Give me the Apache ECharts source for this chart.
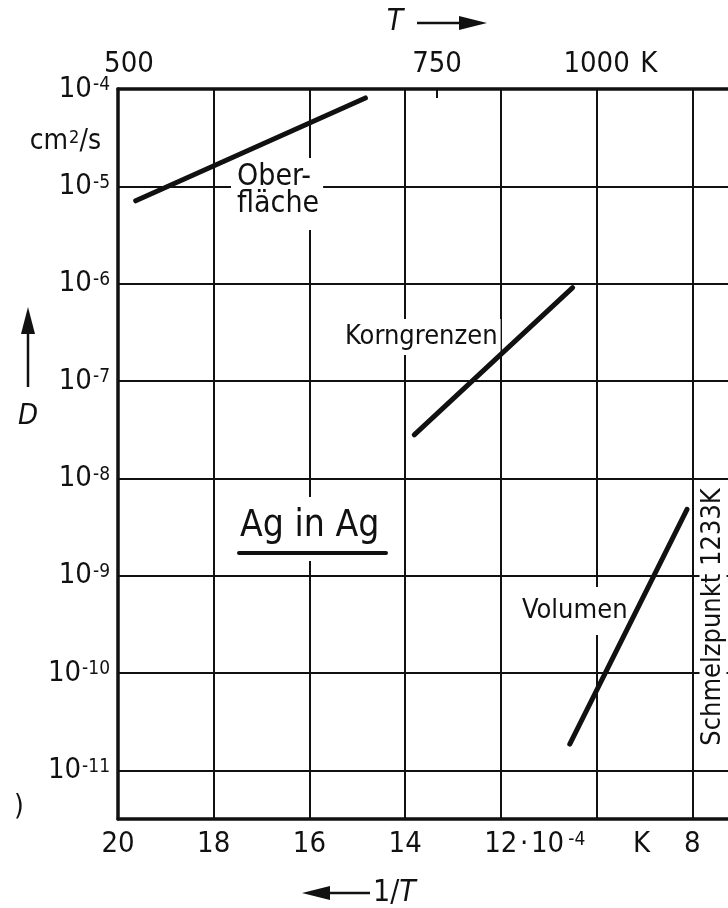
<!DOCTYPE html>
<html>
<head>
<meta charset="utf-8">
<script src="https://cdn.jsdelivr.net/npm/echarts@6/dist/echarts.min.js"></script>
<style>
  html, body { margin: 0; padding: 0; background: #fff; }
  #chart { width: 728px; height: 908px; }
</style>
</head>
<body>
<div id="chart"></div>
<script>
// Diffusion of silver in silver: D over reciprocal temperature (10^-4 1/K)
const xTicks = [20, 18, 16, 14, 12, 10, 8];
const topTemps = [500, 750, 1000];          // K, marked on the upper axis
const meltingPointK = 1233;

// surface diffusion
const surfaceX = [19.63, 14.83];
const surfaceD = [7.1e-6, 8.1e-5];
// grain boundary diffusion
const grainX = [13.81, 10.50];
const grainD = [2.8e-8, 9.1e-7];
// volume (lattice) diffusion
const volumeX = [10.56, 8.11];
const volumeD = [1.86e-11, 4.8e-9];

const FONT = '"Liberation Sans Narrow", "DejaVu Sans Condensed", "Arial Narrow", sans-serif';
const INK = '#111';

const pairs = (xs, ys) => xs.map((x, i) => [x, ys[i]]);

const chart = echarts.init(document.getElementById('chart'), null, { renderer: 'canvas' });

const lineSeries = (name, xs, ys) => ({
  name,
  type: 'line',
  data: pairs(xs, ys),
  xAxisIndex: 0,
  yAxisIndex: 0,
  showSymbol: false,
  symbol: 'none',
  z: 5,
  lineStyle: { color: INK, width: 5, cap: 'round' }
});

const digit = { fontFamily: FONT, fontSize: 29, color: INK };

chart.setOption({
  animation: false,
  backgroundColor: '#fff',
  // the plot runs on past the right edge of the page
  grid: { left: 118, top: 89, width: 670, height: 730, outerBoundsMode: 'none', containLabel: false },
  xAxis: [
    {
      type: 'value',
      position: 'bottom',
      min: 6, max: 20, interval: 2,
      inverse: true,
      axisLine: { lineStyle: { color: INK, width: 3.5 } },
      axisTick: { show: false },
      splitLine: { show: true, lineStyle: { color: INK, width: 2 } },
      axisLabel: {
        margin: 10,
        formatter: v => {
          if (v === 12) return '{pad|}{n|12}{d|\u200a·\u200a10}{s|-4}';
          if (v === 10) return '{padk|}{k|K}';
          if (xTicks.indexOf(v) < 0) return '';
          return '{n|' + v + '}';
        },
        rich: {
          n: Object.assign({ width: 34, align: 'center', lineHeight: 30 }, digit),
          d: Object.assign({ width: 46, align: 'left', lineHeight: 30 }, digit),
          s: { fontFamily: FONT, fontSize: 19, color: INK, width: 24, align: 'left', lineHeight: 18, verticalAlign: 'top', padding: [2, 0, 0, 1] },
          pad: { width: 71 },
          padk: { width: 90 },
          k: Object.assign({ width: 20, align: 'center', lineHeight: 30 }, digit)
        }
      }
    },
    {
      type: 'value',
      position: 'top',
      min: 6, max: 20,
      inverse: true,
      axisLine: { lineStyle: { color: INK, width: 3.5 } },
      splitLine: { show: false },
      axisTick: {
        show: true, inside: true, length: 9,
        customValues: topTemps.map(t => 1e4 / t),
        lineStyle: { color: INK, width: 2 }
      },
      axisLabel: {
        margin: 10,
        customValues: topTemps.map(t => 1e4 / t),
        formatter: v => {
          const t = Math.round(1e4 / v);
          if (t === 1000) return '{pad|}{n|1000}{u| K}';
          if (t === 500) return '{pad5|}{n|500}';
          return '{n|' + t + '}';
        },
        rich: {
          n: Object.assign({ lineHeight: 30 }, digit),
          u: Object.assign({ width: 30, align: 'left', lineHeight: 30 }, digit),
          pad: { width: 30 },
          pad5: { width: 22 }
        }
      }
    }
  ],
  yAxis: {
    type: 'log',
    logBase: 10,
    min: Math.pow(10, -11.5),
    max: 1e-4,
    axisLine: { show: true, lineStyle: { color: INK, width: 3.5 } },
    axisTick: { show: false },
    splitLine: { show: true, lineStyle: { color: INK, width: 2 } },
    axisLabel: {
      margin: 8,
      showMinLabel: false,
      formatter: v => {
        const e = Math.round(Math.log10(v));
        return '{b|10}{s|' + e + '}';
      },
      rich: {
        b: Object.assign({ lineHeight: 30 }, digit),
        s: { fontFamily: FONT, fontSize: 19, color: INK, lineHeight: 18, verticalAlign: 'top', padding: [2, 0, 0, 1] }
      }
    }
  },
  series: [
    lineSeries('Oberfläche', surfaceX, surfaceD),
    lineSeries('Korngrenzen', grainX, grainD),
    lineSeries('Volumen', volumeX, volumeD)
  ],
  graphic: [
    // curve captions on white boxes that interrupt the grid
    {
      type: 'text', x: 231, y: 158, z: 1,
      style: {
        text: 'Ober-\nfläche', font: '30px ' + FONT, fill: INK,
        lineHeight: 27, backgroundColor: '#fff', padding: [6, 4, 12, 6]
      }
    },
    {
      type: 'text', x: 342, y: 319, z: 1,
      style: {
        text: 'Korngrenzen', font: '27px ' + FONT, fill: INK,
        lineHeight: 30, backgroundColor: '#fff', padding: [3, 3, 3, 3]
      }
    },
    {
      type: 'text', x: 520, y: 587, z: 1,
      style: {
        text: 'Volumen', font: '27px ' + FONT, fill: INK,
        lineHeight: 30, backgroundColor: '#fff', padding: [9, 2, 9, 2]
      }
    },
    {
      type: 'text', x: 713, y: 617, rotation: Math.PI / 2, z: 1,
      style: {
        text: 'Schmelzpunkt ' + meltingPointK + 'K', font: '27px ' + FONT, fill: INK,
        align: 'center', verticalAlign: 'middle',
        backgroundColor: '#fff', padding: [0, 6]
      }
    },
    // material label
    { type: 'rect', z: 1, shape: { x: 234, y: 497, width: 156, height: 64 }, style: { fill: '#fff' } },
    {
      type: 'text', x: 240, y: 526, z: 2,
      style: { text: 'Ag in Ag', font: '37px ' + FONT, fill: INK, verticalAlign: 'middle' }
    },
    {
      type: 'line', z: 2,
      shape: { x1: 239, y1: 553, x2: 386, y2: 553 },
      style: { stroke: INK, lineWidth: 4, lineCap: 'round' }
    },
    // unit of D
    {
      type: 'text', x: 101, y: 142, z: 2,
      style: {
        text: '{a|cm}{s|2}{a|/s}', align: 'right', verticalAlign: 'middle',
        rich: {
          a: { fontFamily: FONT, fontSize: 28, fill: INK, lineHeight: 30 },
          s: { fontFamily: FONT, fontSize: 18, fill: INK, lineHeight: 18, verticalAlign: 'top', padding: [2, 0, 0, 1] }
        }
      }
    },
    // D with upward arrow
    { type: 'line', z: 2, shape: { x1: 28, y1: 387, x2: 28, y2: 328 }, style: { stroke: INK, lineWidth: 2.5 } },
    { type: 'polygon', z: 2, shape: { points: [[28, 307], [21, 334], [35, 334]] }, style: { fill: INK } },
    {
      type: 'text', x: 28, y: 416, z: 2,
      style: { text: 'D', font: 'italic 29px ' + FONT, fill: INK, align: 'center', verticalAlign: 'middle' }
    },
    // T with arrow on top
    {
      type: 'text', x: 395, y: 22, z: 2,
      style: { text: 'T', font: 'italic 30px ' + FONT, fill: INK, align: 'center', verticalAlign: 'middle' }
    },
    { type: 'line', z: 2, shape: { x1: 417, y1: 23, x2: 462, y2: 23 }, style: { stroke: INK, lineWidth: 2.5 } },
    { type: 'polygon', z: 2, shape: { points: [[487, 23], [459, 16], [459, 30]] }, style: { fill: INK } },
    // 1/T with arrow below
    { type: 'line', z: 2, shape: { x1: 328, y1: 893, x2: 370, y2: 893 }, style: { stroke: INK, lineWidth: 2.5 } },
    { type: 'polygon', z: 2, shape: { points: [[302, 893], [330, 886], [330, 900]] }, style: { fill: INK } },
    {
      type: 'text', x: 373, y: 893, z: 2,
      style: {
        text: '{a|1/}{b|T}', verticalAlign: 'middle',
        rich: {
          a: { fontFamily: FONT, fontSize: 30, fill: INK },
          b: { fontFamily: FONT, fontSize: 30, fontStyle: 'italic', fill: INK }
        }
      }
    },
    {
      type: 'text', x: 14, y: 808, z: 2,
      style: { text: ')', font: '28px ' + FONT, fill: INK, verticalAlign: 'middle' }
    }
  ]
});
</script>
</body>
</html>
